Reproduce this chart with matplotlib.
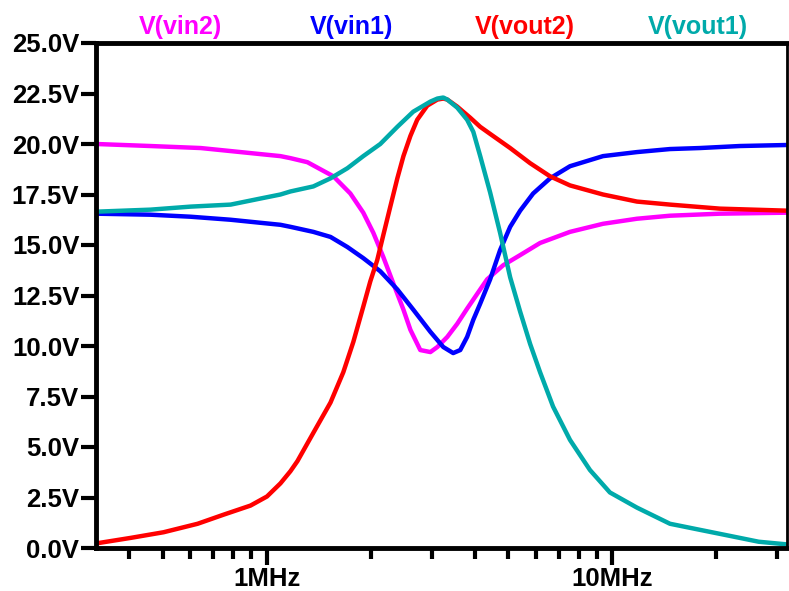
import matplotlib
matplotlib.use("Agg")
import matplotlib.pyplot as plt
from matplotlib.ticker import FixedLocator, NullFormatter

plt.rcParams['font.family'] = ['Liberation Sans', 'DejaVu Sans']

# ---- data (frequency in Hz, voltage in V) ----
f_vin2 = [321e3, 460e3, 643e3, 785e3, 957e3, 1.094e6, 1.169e6, 1.309e6, 1.557e6, 1.743e6,
          1.900e6, 2.032e6, 2.172e6, 2.321e6, 2.483e6, 2.601e6, 2.778e6, 2.972e6, 3.113e6,
          3.326e6, 3.554e6, 3.796e6, 4.142e6, 4.337e6, 4.829e6, 5.405e6, 6.173e6, 7.535e6,
          9.388e6, 11.77e6, 14.67e6, 20.46e6, 31.9e6]
v_vin2 = [20.0, 19.9, 19.8, 19.65, 19.5, 19.4, 19.3, 19.1, 18.4, 17.55,
          16.6, 15.6, 14.4, 13.1, 11.8, 10.8, 9.8, 9.7, 9.95,
          10.45, 11.1, 11.85, 12.8, 13.3, 14.0, 14.5, 15.1, 15.65,
          16.05, 16.3, 16.45, 16.55, 16.6]

f_vin1 = [321e3, 460e3, 601e3, 785e3, 957e3, 1.094e6, 1.169e6, 1.362e6, 1.527e6, 1.709e6,
          1.900e6, 2.128e6, 2.384e6, 2.651e6, 2.972e6, 3.238e6, 3.459e6, 3.626e6, 3.796e6,
          3.956e6, 4.142e6, 4.425e6, 4.729e6, 5.057e6, 5.405e6, 5.894e6, 6.598e6, 7.535e6,
          9.388e6, 11.77e6, 14.67e6, 17.9e6, 23.37e6, 31.9e6]
v_vin1 = [16.55, 16.5, 16.4, 16.25, 16.1, 16.0, 15.9, 15.65, 15.4, 14.9,
          14.35, 13.7, 12.8, 11.8, 10.7, 9.95, 9.65, 9.8, 10.45,
          11.3, 12.1, 13.3, 14.75, 15.9, 16.7, 17.55, 18.3, 18.9,
          19.4, 19.6, 19.75, 19.8, 19.9, 19.95]

f_vout2 = [321e3, 403e3, 502e3, 630e3, 749e3, 896e3, 1.0e6, 1.094e6, 1.169e6, 1.225e6,
           1.362e6, 1.527e6, 1.663e6, 1.778e6, 1.900e6, 1.991e6, 2.085e6, 2.172e6, 2.275e6,
           2.384e6, 2.483e6, 2.601e6, 2.722e6, 2.911e6, 3.113e6, 3.238e6, 3.326e6, 3.554e6,
           3.876e6, 4.142e6, 4.425e6, 5.057e6, 5.777e6, 6.598e6, 7.535e6, 9.388e6, 11.77e6,
           14.67e6, 20.46e6, 31.9e6]
v_vout2 = [0.23, 0.5, 0.78, 1.2, 1.65, 2.1, 2.55, 3.2, 3.8, 4.3,
           5.7, 7.2, 8.7, 10.2, 11.95, 13.2, 14.25, 15.5, 16.9,
           18.3, 19.4, 20.4, 21.2, 21.9, 22.2, 22.25, 22.2, 21.85,
           21.3, 20.85, 20.5, 19.8, 19.05, 18.4, 17.95, 17.5, 17.15,
           17.0, 16.8, 16.7]

f_vout1 = [321e3, 460e3, 601e3, 785e3, 957e3, 1.094e6, 1.169e6, 1.362e6, 1.527e6, 1.709e6,
           1.900e6, 2.128e6, 2.384e6, 2.651e6, 2.972e6, 3.113e6, 3.238e6, 3.326e6, 3.554e6,
           3.796e6, 3.956e6, 4.142e6, 4.425e6, 4.729e6, 5.057e6, 5.405e6, 5.777e6, 6.173e6,
           6.731e6, 7.535e6, 8.607e6, 9.83e6, 11.77e6, 14.67e6, 17.9e6, 20.46e6, 23.37e6,
           26.5e6, 31.9e6]
v_vout1 = [16.65, 16.75, 16.9, 17.0, 17.3, 17.5, 17.65, 17.9, 18.3, 18.8,
           19.4, 20.0, 20.85, 21.6, 22.1, 22.25, 22.3, 22.2, 21.8,
           21.2, 20.6, 19.4, 17.6, 15.6, 13.4, 11.7, 10.1, 8.7,
           7.0, 5.35, 3.86, 2.75, 2.0, 1.2, 0.9, 0.7, 0.5,
           0.31, 0.18]

series = [
    ("V(vin2)", f_vin2, v_vin2, "#FF00FF"),
    ("V(vin1)", f_vin1, v_vin1, "#0000FF"),
    ("V(vout2)", f_vout2, v_vout2, "#FF0000"),
    ("V(vout1)", f_vout1, v_vout1, "#00AAAA"),
]
label_x_px = [180, 352, 525, 698]

y_ticks = [0, 2.5, 5, 7.5, 10, 12.5, 15, 17.5, 20, 22.5, 25]
x_major = [1e6, 1e7]
x_major_labels = ["1MHz", "10MHz"]
x_minor = [4e5, 5e5, 6e5, 7e5, 8e5, 9e5, 2e6, 3e6, 4e6, 5e6, 6e6, 7e6, 8e6, 9e6, 2e7, 3e7]

W, H = 789, 591
fig = plt.figure(figsize=(W / 100, H / 100), dpi=100)
ax = fig.add_axes([96 / W, 1 - 548 / H, (787 - 96) / W, (548 - 43) / H])

for name, f, v, c in series:
    ax.plot(f, v, color=c, lw=3.2, solid_joinstyle='round', solid_capstyle='round')

ax.set_xscale('log')
ax.set_xlim(3.2e5, 3.2e7)
ax.set_ylim(0, 25)

ax.set_yticks(y_ticks)
ax.set_yticklabels([f"{t:.1f}V" for t in y_ticks], fontsize=18.5, fontweight='bold')
ax.xaxis.set_major_locator(FixedLocator(x_major))
ax.set_xticklabels(x_major_labels, fontsize=18.5, fontweight='bold')
ax.xaxis.set_minor_locator(FixedLocator(x_minor))
ax.xaxis.set_minor_formatter(NullFormatter())

ax.tick_params(axis='y', which='major', length=11, width=3, direction='out', pad=1, color='black')
ax.tick_params(axis='x', which='major', length=12, width=3, direction='out', pad=2, color='black')
ax.tick_params(axis='x', which='minor', length=8, width=3, direction='out', color='black')

for side in ['left', 'top', 'bottom']:
    ax.spines[side].set_linewidth(3.5)
    ax.spines[side].set_color('black')
ax.spines['right'].set_linewidth(2)
ax.spines['right'].set_color('black')

for (name, f, v, c), xp in zip(series, label_x_px):
    fig.text(xp / W, 1 - 27 / H, name, color=c, fontsize=18, fontweight='bold',
             ha='center', va='center')

fig.savefig("out.png", dpi=100)
